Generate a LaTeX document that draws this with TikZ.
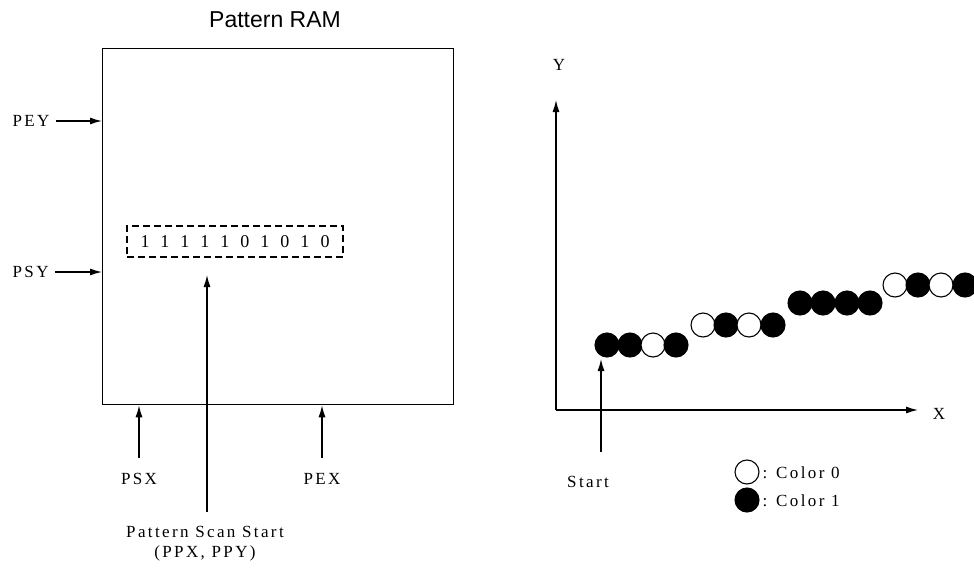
\documentclass[tikz,border=0pt]{standalone}
\usepackage{fontspec}
\setmainfont{Liberation Serif}
\newfontfamily\lblfont[LetterSpace=14]{Liberation Serif}
\newfontfamily\titlefont{Liberation Sans}
\usetikzlibrary{arrows.meta}
\begin{document}
\begin{tikzpicture}[x=1pt,y=-1pt,
  line width=1.3pt,
  arr/.style={-{Latex[length=12pt,width=7pt]}},
  lbl/.style={font=\lblfont\fontsize{17}{19}\selectfont, inner sep=0pt},
  dot/.style={circle, draw, line width=1.1pt, minimum size=24pt, inner sep=0pt},
  on/.style={dot, fill=black},
  off/.style={dot, fill=white}]
\useasboundingbox (0,0) rectangle (974,573);
% left part
\node[font=\titlefont\fontsize{23}{26}\selectfont] (title) at (275,20) {Pattern RAM};
\node[draw, minimum width=351pt, minimum height=356pt, inner sep=0pt, anchor=north west] (ram) at (102,48) {};
\node[lbl, anchor=west] (pey) at (12,121) {PEY};
\node[lbl, anchor=west] (psy) at (12,272) {PSY};
\draw[arr] (pey.east) ++(6,0) coordinate (peys) -- (ram.west |- peys);
\draw[arr] (psy.east) ++(6,0) coordinate (psys) -- (ram.west |- psys);
\node[draw, dashed, dash pattern=on 7pt off 4pt, line width=1.1pt, minimum width=216pt, minimum height=31pt, inner sep=0pt] (reg) at (235,241.5)
  {\fontsize{18}{20}\selectfont\def\d#1{\makebox[20pt]{#1}}\d1\d1\d1\d1\d1\d0\d1\d0\d1\d0};
\coordinate (scantip) at (207,275);
\coordinate (scanbot) at (207,512);
\draw[arr] (scanbot) -- (scantip);
\node[lbl, align=center] (scan) at (205,544) {Pattern Scan Start\\[1pt](PPX, PPY)};
\node[lbl] (psx) at (139,479) {PSX};
\node[lbl] (pex) at (322,479) {PEX};
\draw[arr] (139,458) coordinate (psxs) -- (psxs |- ram.south);
\draw[arr] (322,458) coordinate (pexs) -- (pexs |- ram.south);
% right part
\coordinate (o) at (556,410);
\coordinate (ytip) at (556,100);
\coordinate (xtip) at (918,410);
\draw[arr] (o) -- (ytip);
\draw[arr] (o) -- (xtip);
\node[lbl] (ylab) at (559,65) {Y};
\node[lbl] (xlab) at (939,414) {X};
% circles
\node[on]  (c1) at (607,345) {};
\node[on]  (c2) at (630,345) {};
\node[off] (c3) at (653,345) {};
\node[on]  (c4) at (676,345) {};
\node[off] (c5) at (703,325) {};
\node[on]  (c6) at (726,325) {};
\node[off] (c7) at (749,325) {};
\node[on]  (c8) at (773,325) {};
\node[on]  (c9) at (800,303) {};
\node[on]  (c10) at (823,303) {};
\node[on]  (c11) at (847,303) {};
\node[on]  (c12) at (870,303) {};
\node[off] (c13) at (895,285) {};
\node[on]  (c14) at (918,285) {};
\node[off] (c15) at (941,285) {};
\node[on]  (c16) at (965,285) {};
\coordinate (starts) at (601,452);
\draw[arr] (starts) -- (601,359);
\node[lbl] (start) at (588,482) {Start};
% legend
\node[off] (l0) at (747,472) {};
\node[on]  (l1) at (747,500) {};
\node[lbl, anchor=west] (t0) at (762,473) {: Color 0};
\node[lbl, anchor=west] (t1) at (762,501) {: Color 1};
\end{tikzpicture}
\end{document}
